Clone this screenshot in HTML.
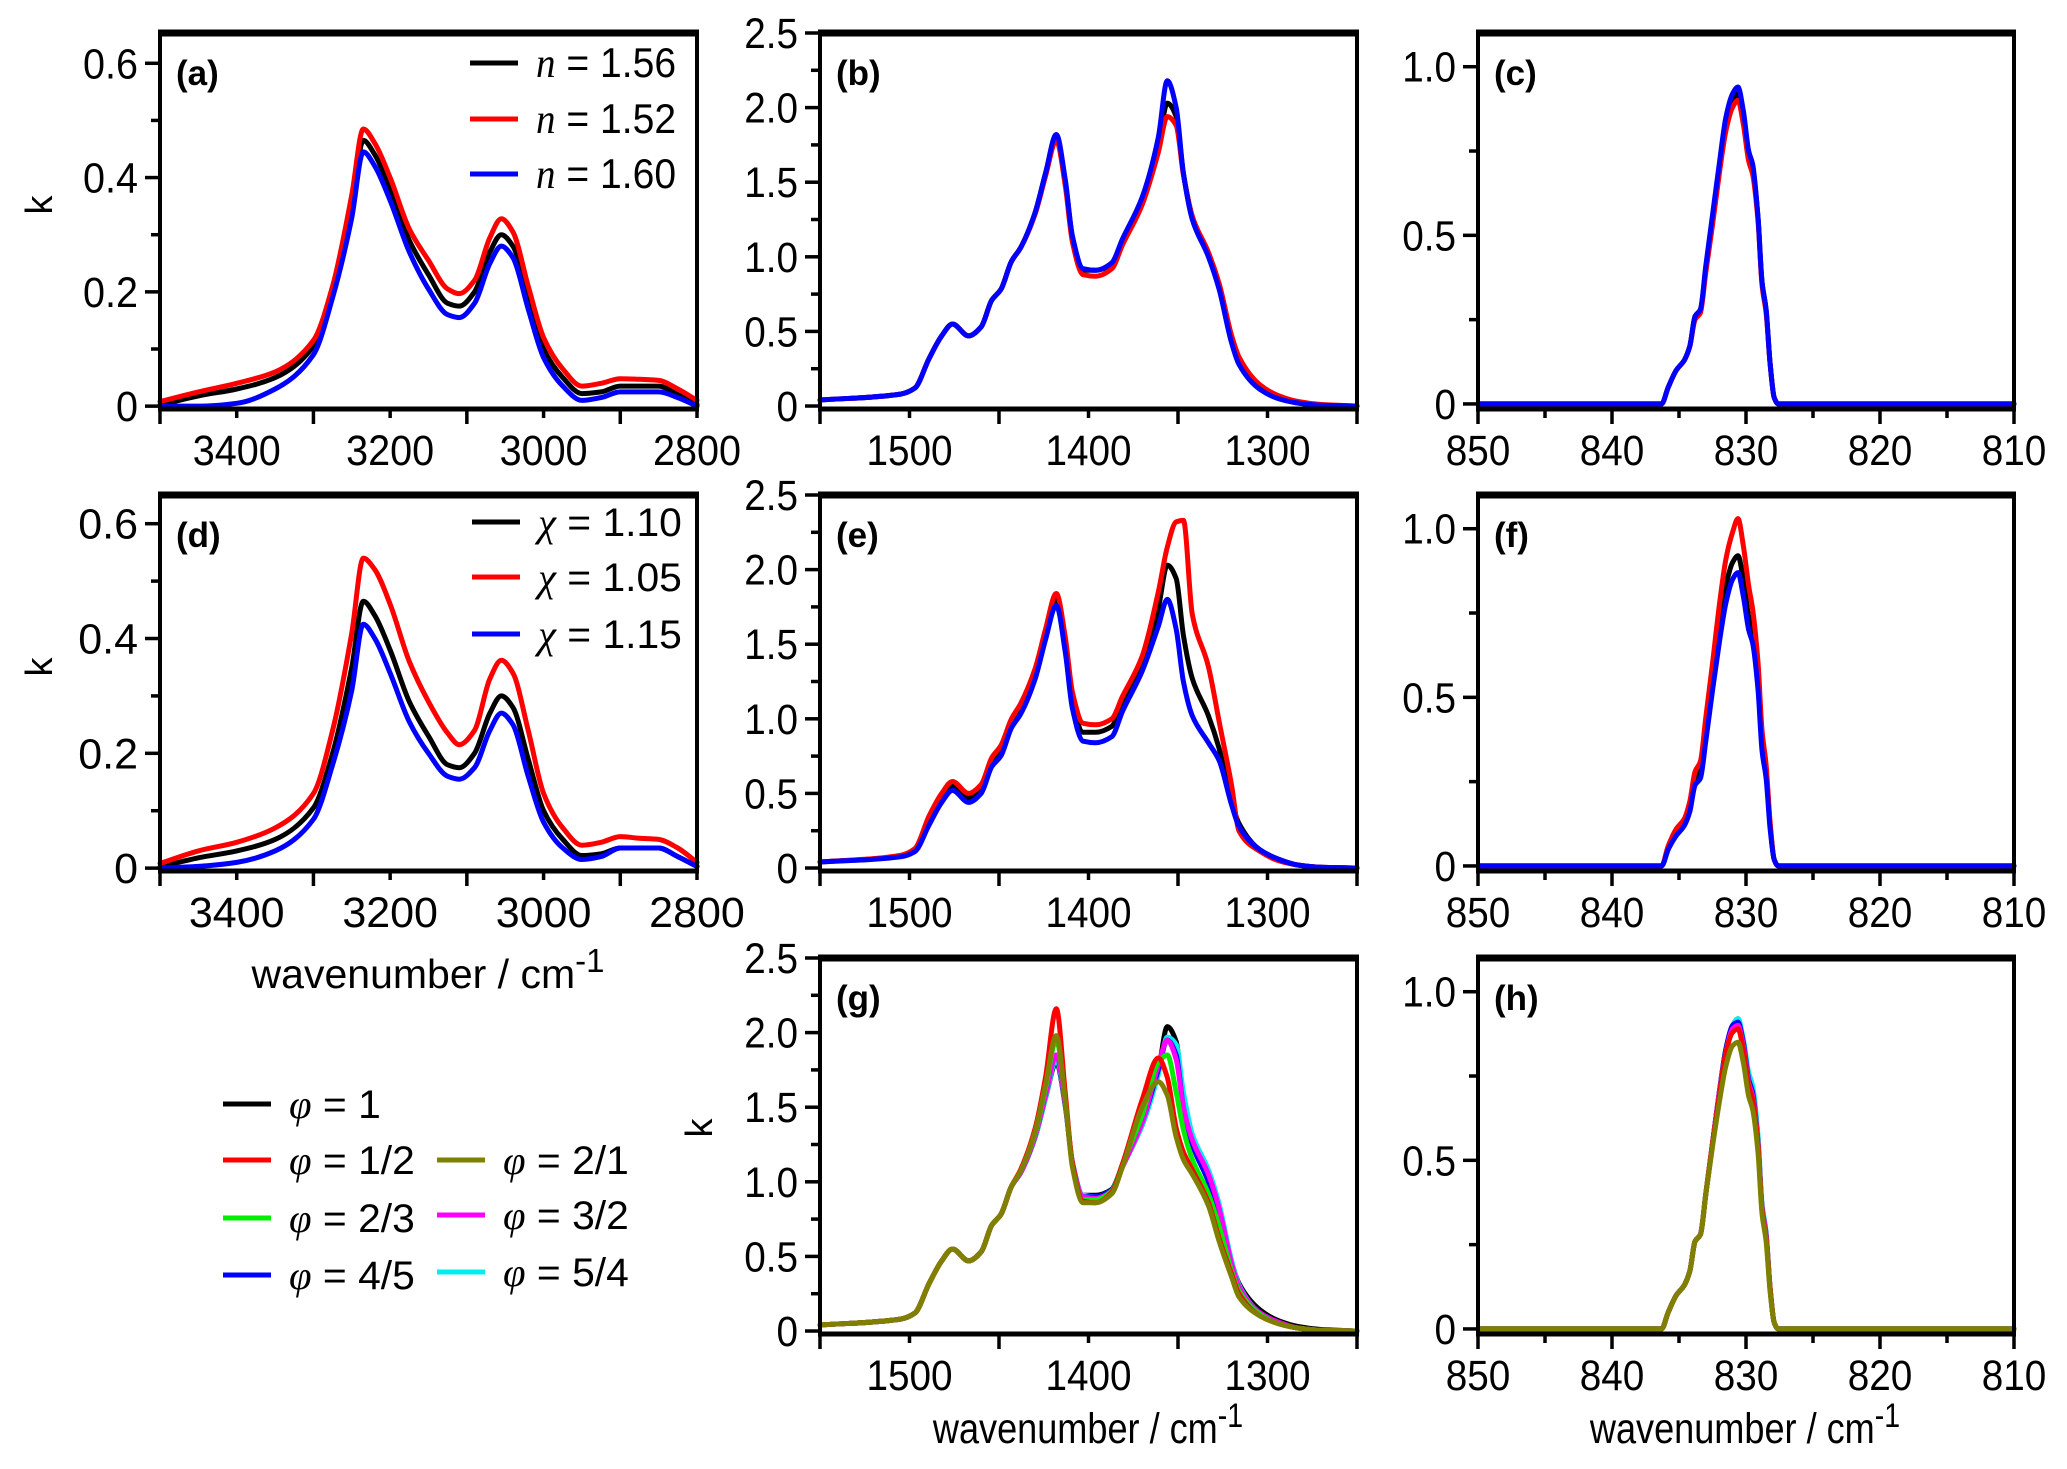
<!DOCTYPE html>
<html><head><meta charset="utf-8"><style>
html,body{margin:0;padding:0;background:#fff;}
svg{display:block;font-family:"Liberation Sans",sans-serif;}
</style></head><body>
<svg id="fig" width="2067" height="1469" viewBox="0 0 2067 1469"></svg>
<script>
// ---- data ----
const xA = [3500,3450,3400,3350,3300,3275,3250,3235,3220,3200,3175,3150,3125,3110,3090,3070,3055,3040,3020,3000,2975,2950,2925,2900,2875,2850,2825,2800];
const aBlack = [0.002,0.018,0.03,0.05,0.105,0.2,0.35,0.465,0.44,0.38,0.29,0.23,0.18,0.175,0.2,0.27,0.3,0.28,0.19,0.1,0.05,0.022,0.025,0.035,0.035,0.035,0.02,0.003];
const aRed = [0.008,0.025,0.04,0.06,0.115,0.21,0.37,0.485,0.46,0.4,0.31,0.255,0.205,0.197,0.22,0.295,0.328,0.305,0.21,0.12,0.065,0.035,0.04,0.048,0.047,0.045,0.03,0.01];
const aBlue = [0,0,0.005,0.03,0.09,0.19,0.33,0.445,0.42,0.36,0.27,0.205,0.16,0.155,0.18,0.25,0.28,0.26,0.17,0.085,0.035,0.01,0.015,0.025,0.025,0.025,0.015,0];
const dBlack = [0.002,0.018,0.03,0.05,0.105,0.2,0.35,0.465,0.44,0.38,0.29,0.23,0.18,0.175,0.2,0.27,0.3,0.28,0.19,0.1,0.05,0.022,0.025,0.035,0.035,0.035,0.02,0.003];
const dRed = [0.008,0.03,0.045,0.07,0.13,0.24,0.41,0.54,0.52,0.46,0.36,0.29,0.235,0.215,0.24,0.33,0.362,0.34,0.24,0.13,0.07,0.04,0.045,0.055,0.052,0.05,0.035,0.01];
const dBlue = [0,0.003,0.01,0.03,0.085,0.18,0.31,0.425,0.4,0.34,0.255,0.2,0.16,0.155,0.175,0.24,0.27,0.25,0.16,0.08,0.035,0.015,0.02,0.035,0.035,0.035,0.02,0.003];

const xB = [1550,1505,1497,1489,1482,1476,1467,1460,1454,1449,1443,1438,1430,1424,1418,1413,1409,1403,1396,1387,1381,1370,1361,1356,1351,1347,1342,1333,1327,1320,1316,1304,1294,1283,1270,1250];
const bBlack = [0.04,0.08,0.12,0.32,0.47,0.55,0.47,0.53,0.71,0.78,0.97,1.06,1.29,1.56,1.8,1.51,1.13,0.91,0.91,0.95,1.11,1.38,1.74,2.03,1.94,1.56,1.27,1.02,0.8,0.44,0.3,0.12,0.06,0.02,0.005,0];
const bRed = [0.04,0.08,0.12,0.32,0.47,0.55,0.47,0.53,0.71,0.78,0.97,1.06,1.28,1.54,1.78,1.48,1.1,0.88,0.87,0.92,1.08,1.35,1.7,1.94,1.88,1.55,1.27,1.03,0.82,0.47,0.33,0.14,0.07,0.03,0.01,0];
const bBlue = [0.04,0.08,0.12,0.32,0.47,0.55,0.47,0.53,0.71,0.78,0.97,1.06,1.29,1.56,1.82,1.52,1.14,0.92,0.91,0.96,1.12,1.4,1.8,2.18,2.0,1.56,1.25,1.0,0.78,0.42,0.28,0.11,0.05,0.02,0.005,0];
const eBlack = [0.04,0.08,0.12,0.32,0.47,0.55,0.47,0.53,0.71,0.78,0.97,1.06,1.29,1.56,1.8,1.51,1.13,0.91,0.91,0.95,1.11,1.38,1.74,2.03,1.94,1.56,1.27,1.02,0.8,0.44,0.3,0.12,0.06,0.02,0.005,0];
const eRed = [0.04,0.085,0.13,0.35,0.5,0.58,0.5,0.56,0.74,0.82,1.0,1.1,1.33,1.6,1.84,1.55,1.18,0.97,0.96,1.0,1.15,1.42,1.85,2.15,2.32,2.33,1.7,1.35,0.98,0.55,0.25,0.11,0.05,0.02,0.005,0];
const eBlue = [0.04,0.075,0.11,0.29,0.44,0.52,0.44,0.5,0.68,0.75,0.94,1.03,1.26,1.53,1.76,1.45,1.07,0.85,0.84,0.88,1.05,1.32,1.62,1.8,1.6,1.25,1.02,0.84,0.72,0.42,0.28,0.12,0.06,0.02,0.005,0];
const gBlack = [0.04,0.08,0.12,0.32,0.47,0.55,0.47,0.53,0.71,0.78,0.97,1.06,1.29,1.56,1.8,1.51,1.13,0.91,0.91,0.95,1.11,1.38,1.74,2.04,1.94,1.56,1.28,1.03,0.82,0.46,0.32,0.14,0.07,0.03,0.01,0];
const gRed = [0.04,0.08,0.12,0.32,0.47,0.55,0.47,0.53,0.71,0.78,0.97,1.08,1.35,1.7,2.16,1.6,1.12,0.87,0.86,0.93,1.12,1.55,1.83,1.7,1.36,1.2,1.08,0.86,0.62,0.38,0.25,0.1,0.05,0.02,0.005,0];
const gGreen = [0.04,0.08,0.12,0.32,0.47,0.55,0.47,0.53,0.71,0.78,0.97,1.07,1.32,1.63,1.95,1.56,1.12,0.88,0.88,0.94,1.12,1.45,1.8,1.85,1.6,1.35,1.15,0.92,0.7,0.4,0.27,0.11,0.05,0.02,0.005,0];
const gBlue = [0.04,0.08,0.12,0.32,0.47,0.55,0.47,0.53,0.71,0.78,0.97,1.06,1.3,1.58,1.85,1.53,1.13,0.9,0.9,0.95,1.11,1.4,1.75,1.95,1.85,1.5,1.25,1.0,0.78,0.43,0.29,0.12,0.06,0.02,0.005,0];
const gOlive = [0.04,0.08,0.12,0.32,0.47,0.55,0.47,0.53,0.71,0.78,0.97,1.07,1.33,1.65,1.98,1.55,1.1,0.86,0.86,0.92,1.1,1.5,1.67,1.58,1.3,1.15,1.05,0.84,0.6,0.36,0.23,0.1,0.05,0.02,0.005,0];
const gMagenta = [0.04,0.08,0.12,0.32,0.47,0.55,0.47,0.53,0.71,0.78,0.97,1.06,1.3,1.58,1.85,1.53,1.13,0.9,0.89,0.94,1.1,1.4,1.78,1.95,1.82,1.5,1.28,1.05,0.82,0.45,0.3,0.12,0.06,0.02,0.005,0];
const gCyan = [0.04,0.08,0.12,0.32,0.47,0.55,0.47,0.53,0.71,0.78,0.97,1.06,1.29,1.56,1.82,1.52,1.13,0.91,0.9,0.95,1.1,1.38,1.72,1.97,1.92,1.6,1.32,1.08,0.85,0.47,0.31,0.12,0.06,0.02,0.005,0];

const xC = [850,836.3,835.8,835.2,834.6,834.2,833.8,833.4,833,832.5,832,831.5,831,830.6,830.2,829.8,829.5,829.1,828.8,828.5,828.2,827.9,827.6,810];
const cBlack = [0,0,0.05,0.1,0.13,0.17,0.26,0.28,0.4,0.55,0.7,0.83,0.9,0.92,0.85,0.74,0.7,0.55,0.36,0.28,0.12,0.02,0,0];
const cRed = [0,0,0.05,0.1,0.13,0.17,0.25,0.27,0.39,0.53,0.68,0.81,0.88,0.9,0.83,0.72,0.68,0.54,0.35,0.27,0.12,0.02,0,0];
const cBlue = [0,0,0.05,0.1,0.13,0.17,0.26,0.28,0.41,0.56,0.71,0.85,0.92,0.94,0.87,0.75,0.71,0.55,0.36,0.28,0.12,0.02,0,0];
const fBlack = [0,0,0.05,0.1,0.13,0.17,0.26,0.28,0.4,0.55,0.7,0.83,0.9,0.92,0.85,0.74,0.7,0.55,0.36,0.28,0.12,0.02,0,0];
const fRed = [0,0,0.06,0.11,0.14,0.19,0.28,0.31,0.44,0.6,0.77,0.91,0.99,1.03,0.95,0.83,0.76,0.6,0.4,0.3,0.13,0.02,0,0];
const fBlue = [0,0,0.05,0.09,0.12,0.16,0.24,0.26,0.37,0.52,0.66,0.78,0.85,0.87,0.8,0.7,0.66,0.52,0.34,0.26,0.11,0.02,0,0];
const hBlack = [0,0,0.05,0.1,0.13,0.17,0.26,0.28,0.4,0.55,0.7,0.83,0.9,0.92,0.85,0.74,0.7,0.55,0.36,0.28,0.12,0.02,0,0];
const hRed = [0,0,0.05,0.1,0.13,0.17,0.26,0.28,0.4,0.55,0.69,0.82,0.88,0.89,0.83,0.72,0.68,0.54,0.35,0.27,0.12,0.02,0,0];
const hGreen = [0,0,0.05,0.1,0.13,0.17,0.26,0.28,0.4,0.55,0.69,0.82,0.88,0.89,0.83,0.72,0.68,0.54,0.35,0.27,0.12,0.02,0,0];
const hBlue = [0,0,0.05,0.1,0.13,0.17,0.26,0.28,0.4,0.55,0.7,0.83,0.9,0.91,0.85,0.74,0.7,0.55,0.36,0.28,0.12,0.02,0,0];
const hMagenta = [0,0,0.05,0.1,0.13,0.17,0.26,0.28,0.4,0.55,0.7,0.82,0.89,0.9,0.84,0.73,0.69,0.55,0.36,0.28,0.12,0.02,0,0];
const hCyan = [0,0,0.05,0.1,0.13,0.17,0.26,0.28,0.4,0.55,0.7,0.83,0.9,0.92,0.86,0.76,0.72,0.57,0.37,0.29,0.12,0.02,0,0];
const hOlive = [0,0,0.05,0.1,0.13,0.17,0.26,0.28,0.4,0.54,0.67,0.78,0.84,0.85,0.79,0.69,0.65,0.52,0.34,0.26,0.11,0.02,0,0];

const xTicksA = [3400,3200,3000,2800];
const xTicksB = [1500,1400,1300];
const xTicksC = [850,840,830,820,810];
const yTicksA = [0,0.2,0.4,0.6];
const yLabelsA = ["0","0.2","0.4","0.6"];
const yTicksB = [0,0.5,1.0,1.5,2.0,2.5];
const yLabelsB = ["0","0.5","1.0","1.5","2.0","2.5"];
const yTicksC = [0,0.5,1.0];
const yLabelsC = ["0","0.5","1.0"];

const BLACK="#000", RED="#ff0000", BLUE="#0000ff", GREEN="#00ee00", OLIVE="#808000", MAG="#ff00ff", CYAN="#00eeee";

// ---- drawing ----
const NS="http://www.w3.org/2000/svg";
const svg=document.getElementById('fig');
function el(tag,attrs,parent){const e=document.createElementNS(NS,tag);for(const k in attrs)e.setAttribute(k,attrs[k]);(parent||svg).appendChild(e);return e;}
function txt(parent,x,y,s,size,anchor,sxf,weight){
  const g=el('g',{transform:`translate(${x},${y}) scale(${sxf||1},1)`},parent);
  const t=el('text',{x:0,y:0,'font-size':size,'text-anchor':anchor||'start','font-weight':weight||'normal',fill:'#000'},g);
  t.textContent=s;return t;
}
// monotone cubic (Fritsch-Carlson) in screen x
function smoothPath(P){
  const n=P.length, dx=[], m=[], s=[];
  for(let i=0;i<n-1;i++){dx[i]=P[i+1][0]-P[i][0]; s[i]=dx[i]===0?0:(P[i+1][1]-P[i][1])/dx[i];}
  m[0]=s[0]; m[n-1]=s[n-2];
  for(let i=1;i<n-1;i++){
    if(s[i-1]*s[i]<=0) m[i]=0;
    else { const w1=2*dx[i]+dx[i-1], w2=dx[i]+2*dx[i-1]; m[i]=(w1+w2)/(w1/s[i-1]+w2/s[i]); }
  }
  let d='M'+P[0][0].toFixed(1)+','+P[0][1].toFixed(1);
  for(let i=0;i<n-1;i++){
    const h=dx[i]/3;
    d+=` C${(P[i][0]+h).toFixed(1)},${(P[i][1]+m[i]*h).toFixed(1)} ${(P[i+1][0]-h).toFixed(1)},${(P[i+1][1]-m[i+1]*h).toFixed(1)} ${P[i+1][0].toFixed(1)},${P[i+1][1].toFixed(1)}`;
  }
  return d;
}
const cols=[[160,697],[820,1357],[1478,2014]];
const rows=[[33,409],[495,871],[958,1334]];
function panel(p){
  const g=el('g',{});
  
  
  const [x0,x1]=cols[p.c],[y0,y1]=rows[p.r];
  const sx=v=>x0+(v-p.xmin)/(p.xmax-p.xmin)*(x1-x0);
  const sy=v=>y1-(v-p.ymin)/(p.ymax-p.ymin)*(y1-y0);
  const sg=el('g',{},g);
  p.series.forEach(s=>{
    const P=s.y.map((v,i)=>[sx(s.x[i]),sy(v)]);
    const pl=el('path',{d:smoothPath(P),fill:'none',stroke:s.color,'stroke-width':5,'stroke-linejoin':'round','stroke-linecap':'round'},sg);
    
    
  });
  const box=el('rect',{x:x0,y:y0,width:x1-x0,height:y1-y0,fill:'none',stroke:'#000','stroke-width':4},g);
  
  
  el('line',{x1:x0-2,y1:y0,x2:x1+2,y2:y0,stroke:'#000','stroke-width':7},g);
  el('line',{x1:x0-2,y1:y1,x2:x1+2,y2:y1,stroke:'#000','stroke-width':5},g);
  const xa=el('g',{},g);
  
  
  for(let v=p.xmaj[0];;v+=p.xmaj[1]/2){
    if((v-p.xmin)*(v-p.xmax)>1e-9)break;
    const major=Math.abs(((v-p.xmaj[0])/p.xmaj[1])-Math.round((v-p.xmaj[0])/p.xmaj[1]))<1e-6;
    el('line',{x1:sx(v),x2:sx(v),y1:y1,y2:y1+(major?15:9),stroke:'#000','stroke-width':3.5},xa);
  }
  p.xt.forEach(v=>{txt(xa,sx(v),y1+56,String(v),43,'middle',p.nf);});
  const ya=el('g',{},g);
  
  
  const step=p.yt[1]-p.yt[0];
  for(let v=0;v<=p.ymax+1e-9;v+=step/2){
    const major=Math.abs(v/step-Math.round(v/step))<1e-6;
    el('line',{x1:x0,x2:x0-(major?15:9),y1:sy(v),y2:sy(v),stroke:'#000','stroke-width':3.5},ya);
  }
  p.yt.forEach((v,i)=>{txt(ya,x0-22,sy(v)+15,p.yl[i],43,'end',p.nf);});
  const lab=txt(g,x0+16,y0+52,'('+p.id+')',35,'start',1,'bold');
  
  
}
panel({id:'a',c:0,r:0,xmin:3500,xmax:2800,ymin:-0.005,ymax:0.653,xmaj:[3500,-200],xt:xTicksA,yt:yTicksA,yl:yLabelsA,nf:0.92,
  series:[{name:'n156',x:xA,y:aBlack,color:BLACK},{name:'n152',x:xA,y:aRed,color:RED},{name:'n160',x:xA,y:aBlue,color:BLUE}]});
panel({id:'b',c:1,r:0,xmin:1550,xmax:1250,ymin:-0.02,ymax:2.5,xmaj:[1550,-100],xt:xTicksB,yt:yTicksB,yl:yLabelsB,nf:0.9,
  series:[{name:'n156',x:xB,y:bBlack,color:BLACK},{name:'n152',x:xB,y:bRed,color:RED},{name:'n160',x:xB,y:bBlue,color:BLUE}]});
panel({id:'c',c:2,r:0,xmin:850,xmax:810,ymin:-0.015,ymax:1.1,xmaj:[850,-10],xt:xTicksC,yt:yTicksC,yl:yLabelsC,nf:0.9,
  series:[{name:'n156',x:xC,y:cBlack,color:BLACK},{name:'n152',x:xC,y:cRed,color:RED},{name:'n160',x:xC,y:cBlue,color:BLUE}]});
panel({id:'d',c:0,r:1,xmin:3500,xmax:2800,ymin:-0.005,ymax:0.65,xmaj:[3500,-200],xt:xTicksA,yt:yTicksA,yl:yLabelsA,nf:1,
  series:[{name:'chi110',x:xA,y:dBlack,color:BLACK},{name:'chi105',x:xA,y:dRed,color:RED},{name:'chi115',x:xA,y:dBlue,color:BLUE}]});
panel({id:'e',c:1,r:1,xmin:1550,xmax:1250,ymin:-0.02,ymax:2.5,xmaj:[1550,-100],xt:xTicksB,yt:yTicksB,yl:yLabelsB,nf:0.9,
  series:[{name:'chi110',x:xB,y:eBlack,color:BLACK},{name:'chi105',x:xB,y:eRed,color:RED},{name:'chi115',x:xB,y:eBlue,color:BLUE}]});
panel({id:'f',c:2,r:1,xmin:850,xmax:810,ymin:-0.015,ymax:1.1,xmaj:[850,-10],xt:xTicksC,yt:yTicksC,yl:yLabelsC,nf:0.9,
  series:[{name:'chi110',x:xC,y:fBlack,color:BLACK},{name:'chi105',x:xC,y:fRed,color:RED},{name:'chi115',x:xC,y:fBlue,color:BLUE}]});
panel({id:'g',c:1,r:2,xmin:1550,xmax:1250,ymin:-0.02,ymax:2.5,xmaj:[1550,-100],xt:xTicksB,yt:yTicksB,yl:yLabelsB,nf:0.9,
  series:[{name:'phi1',x:xB,y:gBlack,color:BLACK},{name:'phi5-4',x:xB,y:gCyan,color:CYAN},{name:'phi4-5',x:xB,y:gBlue,color:BLUE},{name:'phi3-2',x:xB,y:gMagenta,color:MAG},{name:'phi2-3',x:xB,y:gGreen,color:GREEN},{name:'phi1-2',x:xB,y:gRed,color:RED},{name:'phi2-1',x:xB,y:gOlive,color:OLIVE}]});
panel({id:'h',c:2,r:2,xmin:850,xmax:810,ymin:-0.015,ymax:1.1,xmaj:[850,-10],xt:xTicksC,yt:yTicksC,yl:yLabelsC,nf:0.9,
  series:[{name:'phi1',x:xC,y:hBlack,color:BLACK},{name:'phi5-4',x:xC,y:hCyan,color:CYAN},{name:'phi4-5',x:xC,y:hBlue,color:BLUE},{name:'phi3-2',x:xC,y:hMagenta,color:MAG},{name:'phi2-3',x:xC,y:hGreen,color:GREEN},{name:'phi1-2',x:xC,y:hRed,color:RED},{name:'phi2-1',x:xC,y:hOlive,color:OLIVE}]});

function ytitle(x,y,name){const g=el('g',{transform:`translate(${x},${y}) rotate(-90)`});const t=el('text',{x:0,y:0,'font-size':38,'text-anchor':'middle'},g);t.textContent='k';}
ytitle(52,205,'y-axis-title-a');
ytitle(52,667,'y-axis-title-d');
ytitle(712,1128,'y-axis-title-g');
function xtitle(x,y,sxf,size,name){const g=el('g',{transform:`translate(${x},${y}) scale(${sxf},1)`});const t=el('text',{x:0,y:0,'font-size':size,'text-anchor':'middle'},g);t.innerHTML='wavenumber / cm<tspan dy="-16" font-size="'+Math.round(size*0.8)+'">-1</tspan>';}
xtitle(428,988,1,41,'x-axis-title-d');
xtitle(1088,1443,0.84,43,'x-axis-title-g');
xtitle(1745,1443,0.84,43,'x-axis-title-h');

function legend(items,size,sxf,name){
  const g=el('g',{});
  items.forEach(it=>{
    const e=el('g',{},g);
    
    
    el('line',{x1:it.lx,x2:it.lx+48,y1:it.y,y2:it.y,stroke:it.c,'stroke-width':5},e);
    const tg=el('g',{transform:`translate(${it.lx+66},${it.y+14}) scale(${sxf},1)`},e);
    const t=el('text',{x:0,y:0,'font-size':size},tg);
    t.innerHTML=`<tspan font-style="italic" font-family="Liberation Serif, serif">${it.sym}</tspan> = ${it.v}`;
  });
}
legend([{lx:470,y:63,c:BLACK,sym:'n',v:'1.56'},{lx:470,y:119,c:RED,sym:'n',v:'1.52'},{lx:470,y:174,c:BLUE,sym:'n',v:'1.60'}],42,0.93,'legend-a');
legend([{lx:472,y:522,c:BLACK,sym:'χ',v:'1.10'},{lx:472,y:577,c:RED,sym:'χ',v:'1.05'},{lx:472,y:634,c:BLUE,sym:'χ',v:'1.15'}],40,1.02,'legend-d');
legend([{lx:223,y:1104,c:BLACK,sym:'φ',v:'1'},{lx:223,y:1160,c:RED,sym:'φ',v:'1/2'},{lx:223,y:1218,c:GREEN,sym:'φ',v:'2/3'},{lx:223,y:1275,c:BLUE,sym:'φ',v:'4/5'},
        {lx:437,y:1160,c:OLIVE,sym:'φ',v:'2/1'},{lx:437,y:1215,c:MAG,sym:'φ',v:'3/2'},{lx:437,y:1272,c:CYAN,sym:'φ',v:'5/4'}],40,1.02,'legend-phi');
</script>
</body></html>
